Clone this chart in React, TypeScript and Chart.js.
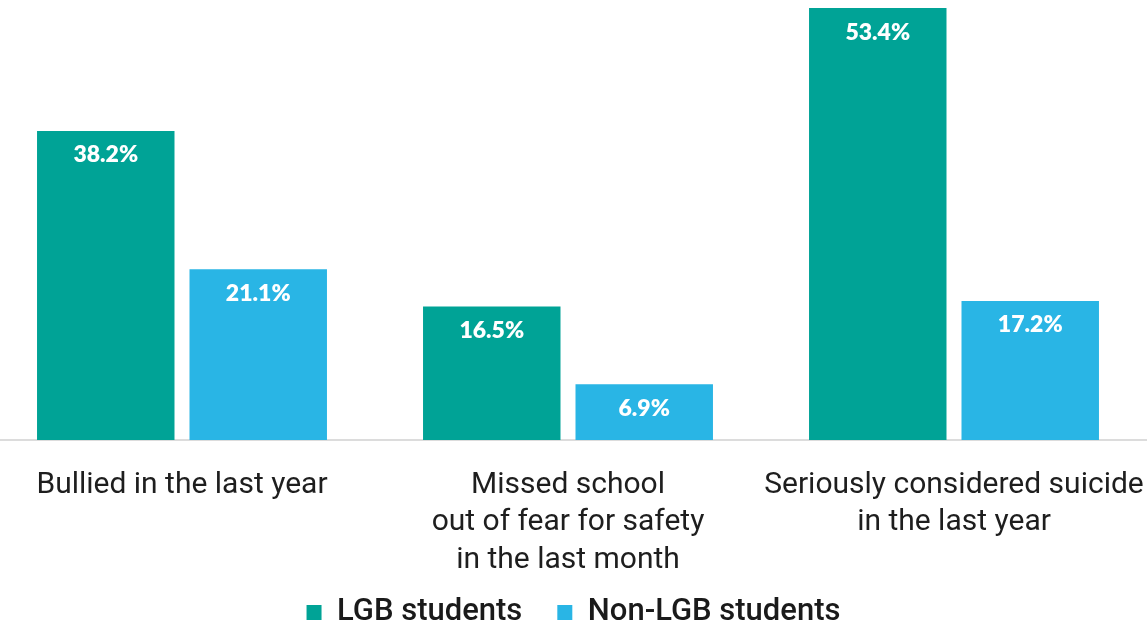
import React, { useEffect, useRef } from 'react';
import { Chart, registerables } from 'chart.js';

Chart.register(...registerables);

// ---- Data ----
const categories: string[][] = [
  ['Bullied in the last year'],
  ['Missed school', 'out of fear for safety', 'in the last month'],
  ['Seriously considered suicide', 'in the last year'],
];
const seriesNames: string[] = ['LGB students', 'Non-LGB students'];
const lgbValues: number[] = [38.2, 16.5, 53.4];
const nonLgbValues: number[] = [21.1, 6.9, 17.2];
const seriesColors: string[] = ['#00A396', '#29B5E5'];

const WIDTH = 1147;
const HEIGHT = 635;
const LEGEND_HEIGHT = 73;
const X_AXIS_HEIGHT = 122;

const valueLabelPlugin = {
  id: 'valueLabels',
  afterDatasetsDraw(chart: any) {
    const ctx = chart.ctx;
    ctx.save();
    ctx.font = '800 23px Lato';
    ctx.fillStyle = '#ffffff';
    ctx.textAlign = 'center';
    ctx.textBaseline = 'middle';
    chart.data.datasets.forEach((ds: any, di: number) => {
      const meta = chart.getDatasetMeta(di);
      meta.data.forEach((bar: any, i: number) => {
        const v = ds.data[i].y as number;
        ctx.fillText(v.toFixed(1) + '%', bar.x, bar.y + 24);
      });
    });
    ctx.restore();
  },
};

const legendHeightPlugin = {
  id: 'legendHeight',
  beforeLayout(chart: any) {
    const leg = chart.legend;
    if (leg && !leg._fixedHeight) {
      const orig = leg.fit;
      leg.fit = function () {
        orig.call(this);
        this.height = LEGEND_HEIGHT;
      };
      leg._fixedHeight = true;
    }
  },
};

export default function App() {
  const canvasRef = useRef<HTMLCanvasElement | null>(null);

  useEffect(() => {
    document.body.style.margin = '0';
    const canvas = canvasRef.current;
    if (!canvas) return;
    const makeData = (vals: number[]) => vals.map((v, i) => ({ x: i, y: v }));
    const chart = new Chart(canvas, {
      type: 'bar',
      data: {
        datasets: [
          {
            label: seriesNames[0],
            data: makeData(lgbValues),
            backgroundColor: seriesColors[0],
            borderWidth: 0,
            categoryPercentage: 0.79,
            barPercentage: 0.9016,
          },
          {
            label: seriesNames[1],
            data: makeData(nonLgbValues),
            backgroundColor: seriesColors[1],
            borderWidth: 0,
            categoryPercentage: 0.79,
            barPercentage: 0.9016,
          },
        ],
      } as any,
      options: {
        responsive: false,
        devicePixelRatio: 1,
        animation: false,
        layout: { padding: 0 },
        scales: {
          x: {
            type: 'linear',
            offset: false,
            min: -0.4715,
            max: 2.5,
            grid: { display: false, drawTicks: false },
            border: { display: true, color: '#dcdcdc', width: 2 },
            ticks: {
              padding: 27,
              color: '#1e1e1e',
              font: { family: 'Roboto', size: 30, lineHeight: 1.24 },
              autoSkip: false,
              maxRotation: 0,
              minRotation: 0,
              callback: (v: any) => categories[v as number] ?? '',
            },
            afterBuildTicks: (scale: any) => {
              scale.ticks = categories.map((_, i) => ({ value: i }));
            },
            afterFit: (scale: any) => {
              scale.height = X_AXIS_HEIGHT;
              scale.paddingLeft = 0;
              scale.paddingRight = 0;
              // let multi-line labels extend below the axis box
              scale._computeLabelArea = () => undefined;
            },
          },
          y: {
            display: false,
            min: 0,
            max: 54.4,
          },
        },
        plugins: {
          legend: {
            position: 'bottom',
            labels: {
              boxWidth: 15,
              boxHeight: 15,
              padding: 35,
              color: '#1a1a1a',
              font: { family: 'Roboto', size: 31, weight: '500' },
            },
          },
          tooltip: { enabled: false },
        },
      } as any,
      plugins: [valueLabelPlugin, legendHeightPlugin],
    });
    return () => chart.destroy();
  }, []);

  return (
    <div style={{ width: WIDTH, height: HEIGHT, background: '#ffffff' }}>
      <canvas ref={canvasRef} width={WIDTH} height={HEIGHT} style={{ display: 'block' }} />
    </div>
  );
}
